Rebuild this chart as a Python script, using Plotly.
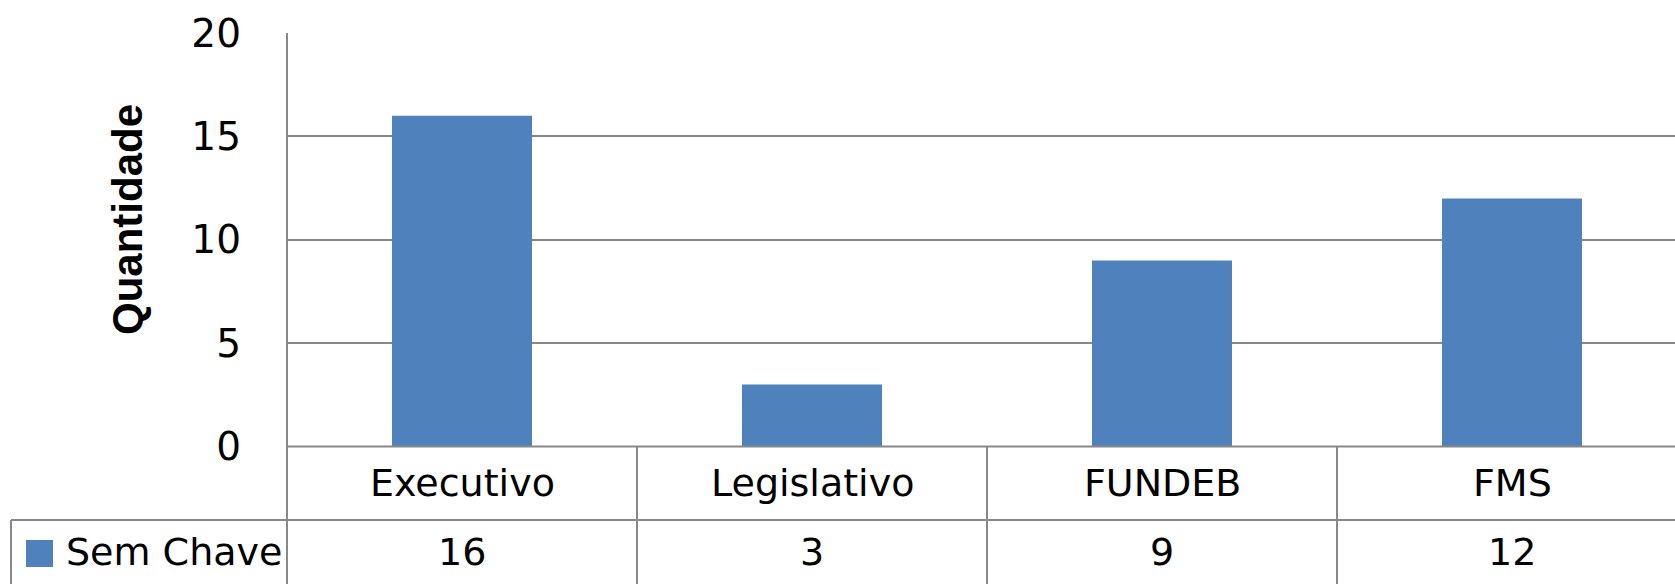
import plotly.graph_objects as go

categories = ["Executivo", "Legislativo", "FUNDEB", "FMS"]
values = [16, 3, 9, 12]
series_name = "Sem Chave"
y_ticks = [0, 5, 10, 15, 20]
y_title = "Quantidade"

W, H = 1675, 584
FONT = "DejaVu Sans, sans-serif"
TITLE_FONT = "Liberation Sans, Arial, sans-serif"
BAR = "#4F81BD"
LINE = "#888888"
LW = 2

# layout positions (pixels)
PLOT_LEFT, PLOT_TOP, PLOT_BOTTOM = 287, 33, 446.5
ROW_SPLIT = 520
LEG_LEFT = 11


def px(p):
    return p / W


def py(p):
    return 1 - p / H


x0 = px(PLOT_LEFT)
x_lo, x_hi = -0.5, 3.5 - 12 / 350
span = x_hi - x_lo


def cat_edge(i):
    # paper x of the boundary to the right of category i
    return x0 + (i + 0.5 - x_lo) / span * (1 - x0)


fig = go.Figure()
fig.add_trace(go.Bar(x=categories, y=values, name=series_name,
                     marker=dict(color=BAR, line=dict(width=0)), width=0.4))

shapes = []
line = dict(color=LINE, width=LW)
shapes.append(dict(type="line", xref="paper", yref="paper", x0=x0, x1=1, y0=py(PLOT_BOTTOM), y1=py(PLOT_BOTTOM), line=line))
shapes.append(dict(type="line", xref="paper", yref="paper", x0=px(LEG_LEFT), x1=1, y0=py(ROW_SPLIT), y1=py(ROW_SPLIT), line=line))
shapes.append(dict(type="line", xref="paper", yref="paper", x0=x0, x1=x0, y0=py(PLOT_TOP), y1=0, line=line))
shapes.append(dict(type="line", xref="paper", yref="paper", x0=px(LEG_LEFT), x1=px(LEG_LEFT), y0=py(ROW_SPLIT), y1=0, line=line))
for i in range(len(categories) - 1):
    xe = cat_edge(i)
    shapes.append(dict(type="line", xref="paper", yref="paper", x0=xe, x1=xe, y0=py(PLOT_BOTTOM), y1=0, line=line))
shapes.append(dict(type="rect", xref="paper", yref="paper", x0=px(26), x1=px(53), y0=py(567), y1=py(540),
                   fillcolor=BAR, line=dict(width=0)))

annotations = []
for c, v in zip(categories, values):
    annotations.append(dict(x=c, xref="x", y=py(483), yref="paper", text=c, showarrow=False,
                            xanchor="center", yanchor="middle", font=dict(family=FONT, size=38, color="#000")))
    annotations.append(dict(x=c, xref="x", y=py(552), yref="paper", text=str(v), showarrow=False,
                            xanchor="center", yanchor="middle", font=dict(family=FONT, size=38, color="#000")))
annotations.append(dict(x=px(64), xref="paper", y=py(552), yref="paper", text=series_name, showarrow=False,
                        xanchor="left", yanchor="middle", font=dict(family=FONT, size=38, color="#000")))
annotations.append(dict(x=px(128), xref="paper", y=py(220), yref="paper", text="<b>" + y_title + "</b>",
                        showarrow=False, textangle=-90, xanchor="center", yanchor="middle",
                        font=dict(family=TITLE_FONT, size=42, color="#000")))

fig.update_layout(
    template="none",
    width=W, height=H, autosize=False,
    margin=dict(l=0, r=0, t=0, b=0, pad=0),
    paper_bgcolor="white", plot_bgcolor="white",
    showlegend=False,
    xaxis=dict(domain=[x0, 1], range=[x_lo, x_hi], showticklabels=False, showgrid=False,
               zeroline=False, showline=False, ticks="", fixedrange=True, automargin=False),
    yaxis=dict(domain=[py(PLOT_BOTTOM), py(PLOT_TOP)], range=[0, 20], tickvals=y_ticks,
               showgrid=True, gridcolor=LINE, gridwidth=LW, zeroline=False, showline=False,
               ticks="", ticklabelstandoff=45, automargin=False,
               tickfont=dict(family=FONT, size=39, color="#000")),
    shapes=shapes,
    annotations=annotations,
)

fig.write_html("out.html", config={"displayModeBar": False},
               post_script="document.body.style.margin='0';document.body.style.overflow='hidden';")
